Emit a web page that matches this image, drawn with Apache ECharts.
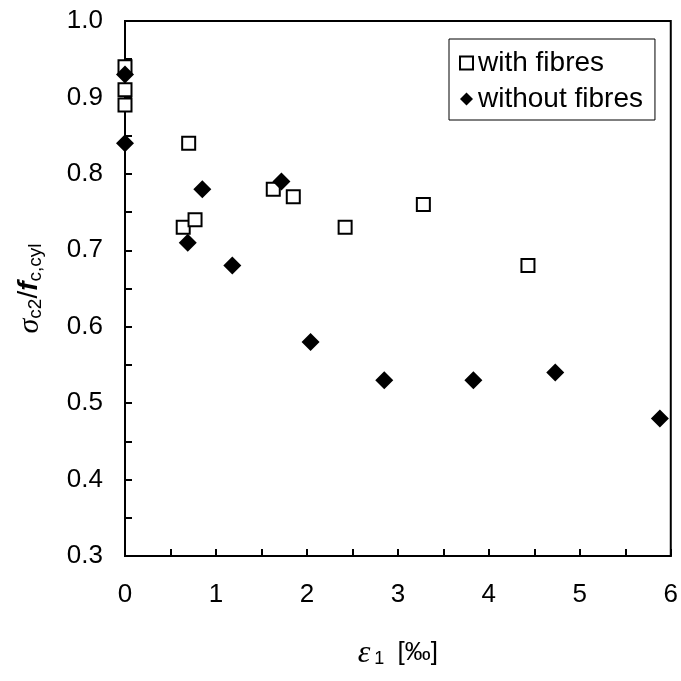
<!DOCTYPE html>
<html>
<head>
<meta charset="utf-8">
<script src="https://cdn.jsdelivr.net/npm/echarts@6/dist/echarts.min.js"></script>
<style>
  html, body { margin: 0; padding: 0; background: #fff; }
  #main { width: 681px; height: 681px; }
</style>
</head>
<body>
<div id="main"></div>
<script>
// 数据：[ε1 (‰), σc2/fc,cyl]
var withFibres = [
  [0, 0.94], [0, 0.91], [0, 0.89], [0.70, 0.84], [0.64, 0.73], [0.77, 0.74],
  [1.63, 0.78], [1.85, 0.77], [2.42, 0.73], [3.28, 0.76], [4.43, 0.68]
];
var withoutFibres = [
  [0, 0.93], [0, 0.84], [0.69, 0.71], [0.85, 0.78], [1.18, 0.68], [1.72, 0.79],
  [2.04, 0.58], [2.85, 0.53], [3.83, 0.53], [4.73, 0.54], [5.88, 0.48]
];
var seriesNames = ["with fibres", "without fibres"];

var chart = echarts.init(document.getElementById("main"));
var font = "Liberation Sans, Arial, sans-serif";
var serif = "Liberation Serif, Times New Roman, serif";

chart.setOption({
  animation: false,
  backgroundColor: "#fff",
  textStyle: { fontFamily: font, color: "#000" },
  grid: {
    left: 125,
    right: 8,
    top: 21,
    bottom: 111,
    show: true,
    borderColor: "#000",
    borderWidth: 2
  },
  legend: {
    orient: "vertical",
    left: 449,
    top: 39,
    data: seriesNames,
    borderColor: "#000",
    borderWidth: 1,
    padding: [9, 12, 6, 10],
    itemGap: 6,
    itemWidth: 13,
    itemHeight: 13,
    textStyle: { fontSize: 28, lineHeight: 30, color: "#000", fontFamily: font }
  },
  xAxis: {
    type: "value",
    min: 0,
    max: 6,
    interval: 1,
    axisLine: { show: true, lineStyle: { color: "#000", width: 2 } },
    axisTick: { show: true, inside: true, length: 7, lineStyle: { color: "#000", width: 2 } },
    minorTick: { show: true, splitNumber: 2, length: 7, lineStyle: { color: "#000", width: 2 } },
    splitLine: { show: false },
    axisLabel: { fontSize: 26, color: "#000", margin: 26 },
    name: "{e|ε}{sub|1} [‰]",
    nameLocation: "middle",
    nameGap: 82,
    nameTextStyle: {
      fontSize: 26,
      color: "#000",
      rich: {
        e: { fontFamily: serif, fontStyle: "italic", fontSize: 32, verticalAlign: "top", lineHeight: 30, padding: [0, 0, 6, 0] },
        sub: { fontSize: 18, verticalAlign: "bottom", lineHeight: 18, padding: [0, 6, 0, 4] }
      }
    }
  },
  yAxis: {
    type: "value",
    min: 0.3,
    max: 1.0,
    interval: 0.1,
    axisLine: { show: true, lineStyle: { color: "#000", width: 2 } },
    axisTick: { show: true, inside: true, length: 7, lineStyle: { color: "#000", width: 2 } },
    minorTick: { show: true, splitNumber: 2, length: 7, lineStyle: { color: "#000", width: 2 } },
    splitLine: { show: false },
    axisLabel: {
      fontSize: 26,
      color: "#000",
      margin: 22,
      formatter: function (v) { return v.toFixed(1); }
    },
    name: "{s|σ}{sub|c2}{n|/}{f|f}{sub|c,cyl}",
    nameLocation: "middle",
    nameRotate: 90,
    nameGap: 80,
    nameTextStyle: {
      color: "#000",
      rich: {
        s: { fontFamily: serif, fontStyle: "italic", fontSize: 30, verticalAlign: "top", lineHeight: 30, padding: [0, 0, 6, 0] },
        n: { fontSize: 28, verticalAlign: "top", lineHeight: 30, padding: [0, 0, 6, 0] },
        f: { fontSize: 28, fontStyle: "italic", fontWeight: "bold", verticalAlign: "top", lineHeight: 30, padding: [0, 0, 6, 0] },
        sub: { fontSize: 19, verticalAlign: "bottom", lineHeight: 19 }
      }
    }
  },
  series: [
    {
      name: seriesNames[0],
      type: "scatter",
      data: withFibres,
      symbol: "rect",
      symbolSize: 13,
      z: 3,
      itemStyle: { color: "#fff", borderColor: "#000", borderWidth: 2, opacity: 1 }
    },
    {
      name: seriesNames[1],
      type: "scatter",
      data: withoutFibres,
      symbol: "diamond",
      symbolSize: 18,
      z: 4,
      itemStyle: { color: "#000", opacity: 1 }
    }
  ]
});

window.addEventListener("resize", function () {
  chart.resize();
});
</script>
</body>
</html>
